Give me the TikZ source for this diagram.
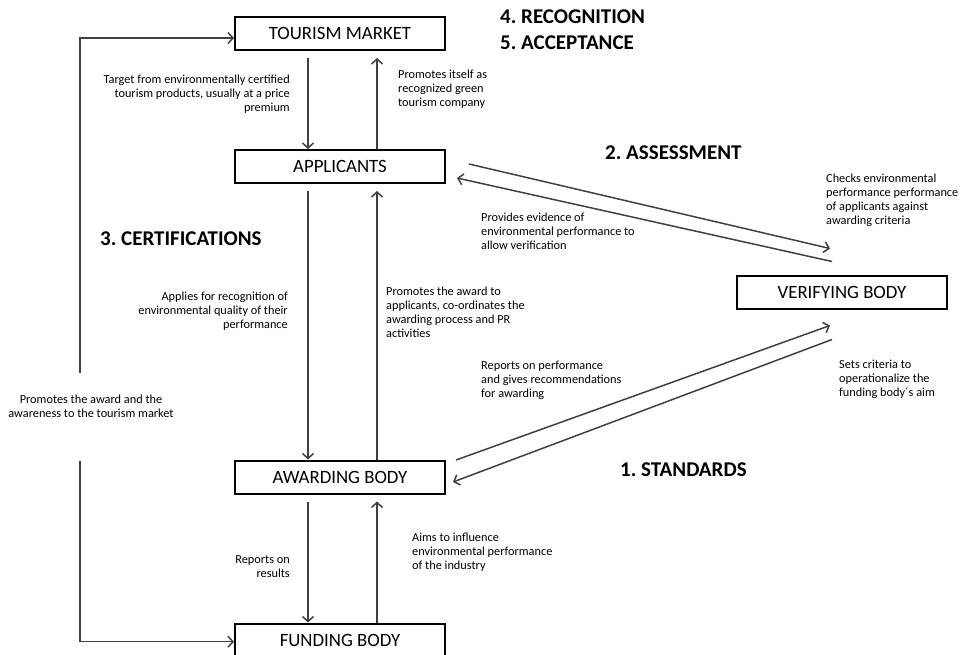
\documentclass[tikz,border=0pt]{standalone}
\usepackage{fontspec}
\setmainfont{Carlito}
\usetikzlibrary{arrows.meta}
\frenchspacing

\begin{document}
\begin{tikzpicture}
  [x=1pt,y=-1pt,every node/.style={inner sep=0pt},
   box/.style={draw,line width=2pt,minimum width=210pt,minimum height=33pt,font=\fontsize{18.8}{20}\selectfont},
   note/.style={font=\fontsize{12.3}{14}\selectfont,align=left,anchor=west},
   phase/.style={font=\bfseries\fontsize{21}{26}\selectfont,align=left,anchor=west},
   link/.style={draw=black!75,line width=1.5pt,-{Straight Barb[length=5pt,width=11pt]}}]
  \useasboundingbox (0,0) rectangle (969,654);

  \node[box] (tm) at (340,33.5) {TOURISM MARKET};
  \node[box] (app) at (340,166.5) {APPLICANTS};
  \node[box] (vb) at (842,292) {VERIFYING BODY};
  \node[box] (ab) at (340,477) {AWARDING BODY};
  \node[box] (fb) at (340,640) {FUNDING BODY};

  \node[phase] (rec) at (500,30) {4. RECOGNITION\\5. ACCEPTANCE};
  \node[phase] (ass) at (605,153) {2. ASSESSMENT};
  \node[phase] (cert) at (100,239) {3. CERTIFICATIONS};
  \node[phase] (std) at (620,470) {1. STANDARDS};

  \node[note,align=right,anchor=east] (target) at (290,94)
    {Target from environmentally certified\\tourism products, usually at a price\\premium};
  \node[note] (itself) at (398,89) {Promotes itself as\\recognized green\\tourism company};
  \node[note] (checks) at (826,200)
    {Checks environmental\\performance performance\\of applicants against\\awarding criteria};
  \node[note] (evid) at (481,231)
    {Provides evidence of\\environmental performance to\\allow verification};
  \node[note,align=right,anchor=east] (applies) at (288,311)
    {Applies for recognition of\\environmental quality of their\\performance};
  \node[note] (promaw) at (386,312)
    {Promotes the award to\\applicants, co-ordinates the\\awarding process and PR\\activities};
  \node[note] (reports) at (481,380)
    {Reports on performance\\and gives recommendations\\for awarding};
  \node[note] (sets) at (839,379)
    {Sets criteria to\\operationalize the\\funding body´s aim};
  \node[note,align=right,anchor=east] (results) at (290,566.5) {Reports on\\results};
  \node[note] (aims) at (412,552)
    {Aims to influence\\environmental performance\\of the industry};
  \node[note,align=center,anchor=center] (promo) at (91,406)
    {Promotes the award and the\\awareness to the tourism market};

  \foreach \up/\lo in {tm/app,app/ab,ab/fb}{
    \draw[link] ([xshift=-32pt,yshift=-7pt]\up.south) -- ([xshift=-32pt]\lo.north);
    \draw[link] ([xshift=37pt]\lo.north) -- ([xshift=37pt,yshift=-7pt]\up.south);
  }

  % assessment
  \draw[link] ([shift={(23,-2.5)}]app.east) -- ([shift={(-12,-26)}]vb.north);
  \draw[link] ([shift={(-10,-13)}]vb.north) -- ([shift={(11,11.5)}]app.east);
  % standards
  \draw[link] ([shift={(10,-17)}]ab.east) -- ([shift={(-12,16)}]vb.south);
  \draw[link] ([shift={(-10,30)}]vb.south) -- ([shift={(7,5)}]ab.east);

  \coordinate (lt) at (80,373);
  \coordinate (lb) at (80,461);
  \draw[link] (lt) |- ([yshift=-4.5pt]tm.west);
  \draw[link] (lb) |- ([yshift=-1.7pt]fb.west);

\end{tikzpicture}
\end{document}
